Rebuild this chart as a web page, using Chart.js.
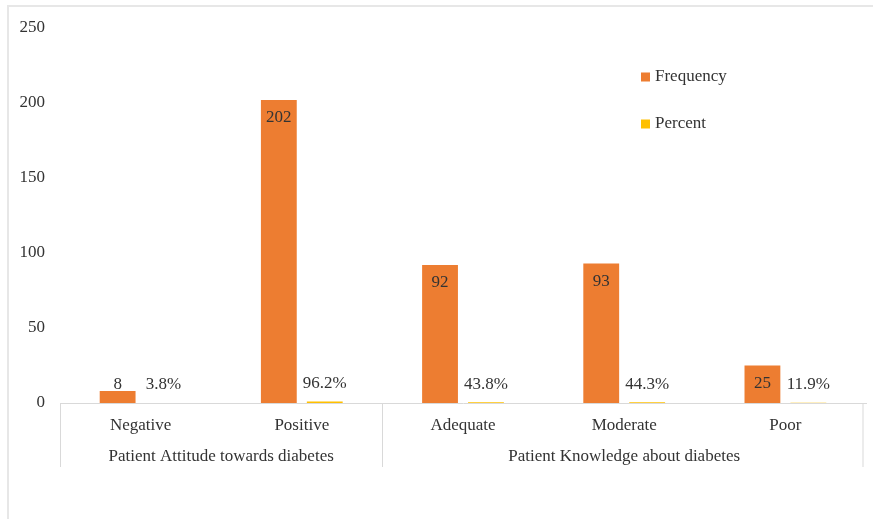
<!DOCTYPE html>
<html>
<head>
<meta charset="utf-8">
<script src="https://cdn.jsdelivr.net/npm/chart.js@4.4.0/dist/chart.umd.min.js"></script>
<style>
  html, body { margin: 0; padding: 0; background: #fff; }
  #frame { position: absolute; left: 7px; top: 5px; width: 880px; height: 530px; border: 2px solid #e7e7e7; }
  #wrap { position: absolute; left: 0; top: 0; width: 873px; height: 519px; }
</style>
</head>
<body>
<div id="frame"></div>
<div id="wrap"><canvas id="myChart"></canvas></div>
<script>
//DATA
const categories = ["Negative", "Positive", "Adequate", "Moderate", "Poor"];
const groupNames = ["Patient Attitude towards diabetes", "Patient Knowledge about diabetes"];
const groupSizes = [2, 3];
const frequency = [8, 202, 92, 93, 25];
const percent = [0.038, 0.962, 0.438, 0.443, 0.119];
const yMin = 0;
const yMax = 250;
const yStep = 50;

const FONT = "'Liberation Serif', 'Times New Roman', serif";
const TEXT = "#333333";
const LINE = "#d9d9d9";

//BAR VALUE LABELS
const barLabels = {
  id: "barLabels",
  afterDatasetsDraw(chart) {
    const ctx = chart.ctx;
    ctx.save();
    ctx.font = "17px " + FONT;
    ctx.fillStyle = TEXT;
    ctx.textAlign = "center";
    ctx.textBaseline = "middle";
    chart.data.datasets.forEach((ds, di) => {
      const meta = chart.getDatasetMeta(di);
      meta.data.forEach((bar, i) => {
        const v = ds.data[i];
        let y;
        let txt;
        if (di === 0) {
          txt = String(v);
          y = Math.min(bar.y + 18, bar.base - 18);
        } else {
          txt = (v * 100).toFixed(1) + "%";
          y = bar.y - 18;
        }
        ctx.fillText(txt, bar.x, y);
      });
    });
    ctx.restore();
  },
};

//GROUP LABELS + SEPARATORS UNDER X AXIS
const groupAxis = {
  id: "groupAxis",
  afterDraw(chart) {
    const ctx = chart.ctx;
    const x = chart.scales.x;
    const area = chart.chartArea;
    const half = (x.getPixelForValue(1) - x.getPixelForValue(0)) / 2;
    ctx.save();
    ctx.strokeStyle = LINE;
    ctx.lineWidth = 1;
    ctx.font = "17px " + FONT;
    ctx.fillStyle = TEXT;
    ctx.textAlign = "center";
    ctx.textBaseline = "middle";
    let start = 0;
    const edges = [Math.round(x.getPixelForValue(0) - half) + 0.5];
    groupSizes.forEach((n, g) => {
      const left = x.getPixelForValue(start) - half;
      const right = x.getPixelForValue(start + n - 1) + half;
      ctx.fillText(groupNames[g], (left + right) / 2, area.bottom + 54);
      edges.push(Math.round(right) - 3.5 * (g === groupSizes.length - 1) + 0.5);
      start += n;
    });
    edges.forEach((ex) => {
      ctx.beginPath();
      ctx.moveTo(ex, area.bottom);
      ctx.lineTo(ex, area.bottom + 64);
      ctx.stroke();
    });
    ctx.restore();
  },
};

//LEGEND
const sideLegend = {
  id: "sideLegend",
  afterDraw(chart) {
    const ctx = chart.ctx;
    ctx.save();
    ctx.font = "17px " + FONT;
    ctx.textBaseline = "middle";
    ctx.textAlign = "left";
    chart.data.datasets.forEach((ds, i) => {
      const cy = 77 + i * 47;
      ctx.fillStyle = ds.backgroundColor;
      ctx.fillRect(641, cy - 4.5, 9, 9);
      ctx.fillStyle = TEXT;
      ctx.fillText(ds.label, 655, cy);
    });
    ctx.restore();
  },
};

const data = {
  labels: categories,
  datasets: [
    {
      label: "Frequency",
      data: frequency,
      backgroundColor: "#ED7D31",
      categoryPercentage: 0.57,
      barPercentage: 0.78,
    },
    {
      label: "Percent",
      data: percent,
      backgroundColor: "#FFC000",
      categoryPercentage: 0.57,
      barPercentage: 0.78,
    },
  ],
};

const config = {
  type: "bar",
  data,
  options: {
    responsive: true,
    maintainAspectRatio: false,
    animation: false,
    layout: { padding: { top: 28, right: 7, bottom: 46, left: 0 } },
    plugins: {
      legend: { display: false },
      tooltip: { enabled: false },
    },
    scales: {
      x: {
        grid: { display: false, drawTicks: false },
        border: { display: true, color: LINE, width: 1 },
        ticks: { color: TEXT, font: { family: FONT, size: 17 }, padding: 12, maxRotation: 0 },
        afterFit(scale) {
          scale.height = 70;
          scale.paddingLeft = 0;
          scale.paddingRight = 0;
        },
      },
      y: {
        min: yMin,
        max: yMax,
        grid: { display: false, drawTicks: false },
        border: { display: false },
        ticks: { stepSize: yStep, color: TEXT, font: { family: FONT, size: 17 }, padding: 15 },
        afterFit(scale) {
          scale.width = 60;
          scale.paddingTop = 0;
          scale.paddingBottom = 0;
        },
      },
    },
  },
  plugins: [barLabels, groupAxis, sideLegend],
};

// RENDER CHART
const myChart = new Chart(document.getElementById("myChart"), config);
</script>
</body>
</html>
